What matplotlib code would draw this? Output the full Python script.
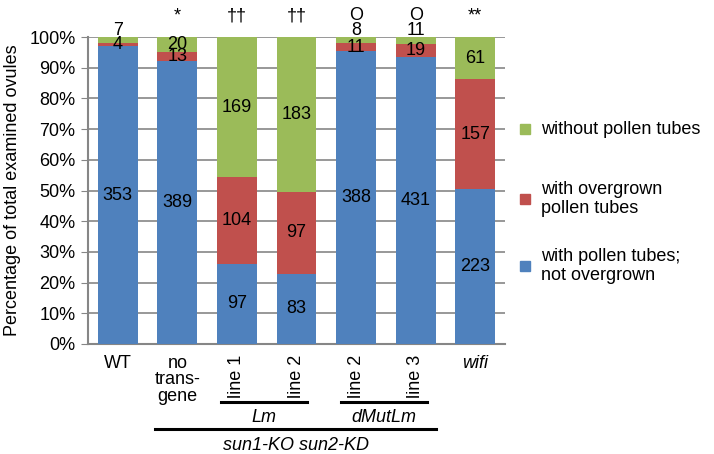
import matplotlib.pyplot as plt
from matplotlib.patches import Rectangle
from matplotlib.transforms import blended_transform_factory
import numpy as np

plt.rcParams['font.family'] = ['Liberation Sans', 'DejaVu Sans']

# data
categories = ["WT", "no\ntrans-\ngene", "line 1", "line 2", "line 2", "line 3", "wifi"]
not_overgrown = [353, 389, 97, 83, 388, 431, 223]
overgrown = [4, 13, 104, 97, 11, 19, 157]
without_tubes = [7, 20, 169, 183, 8, 11, 61]
significance = ["", "*", "††", "††", "O", "O", "**"]
legend_labels = ["without pollen tubes", "with overgrown\npollen tubes", "with pollen tubes;\nnot overgrown"]

blue = "#4F81BD"
red = "#C0504D"
green = "#9BBB59"

fig = plt.figure(figsize=(7.14, 4.54), dpi=100)
ax = fig.add_axes([88 / 714, 1 - 344 / 454, 417 / 714, 307 / 454])

x = np.arange(len(categories))
counts = np.array([not_overgrown, overgrown, without_tubes], dtype=float)
totals = counts.sum(axis=0)
pct = counts / totals * 100

bottom = np.zeros(len(categories))
for row, (vals, color) in enumerate(zip(pct, [blue, red, green])):
    ax.bar(x, vals, bottom=bottom, width=0.67, color=color, zorder=3)
    for i in range(len(categories)):
        mid = bottom[i] + vals[i] / 2
        if row == 2 and vals[i] < 3:
            ax.text(x[i], 99.3, str(int(counts[row, i])), ha="center", va="bottom", fontsize=13, zorder=4)
        else:
            ax.text(x[i], mid, str(int(counts[row, i])), ha="center", va="center", fontsize=13, zorder=4)
    bottom += vals

for i, s in enumerate(significance):
    ax.text(x[i], 107, s, ha="center", va="center", fontsize=13)

ax.set_xlim(-0.5, len(categories) - 0.5)
ax.set_ylim(0, 100)
ax.set_yticks(np.arange(0, 101, 10))
ax.set_yticklabels([f"{v}%" for v in range(0, 101, 10)], fontsize=13)
ax.yaxis.grid(True, color="#868686", linewidth=1.2, zorder=0)
ax.set_ylabel("Percentage of total examined ovules", fontsize=13, labelpad=6)

ax.set_xticks(x)
ax.set_xticklabels(categories, fontsize=13, linespacing=0.95)
for i, lab in enumerate(ax.get_xticklabels()):
    if categories[i].startswith("line"):
        lab.set_rotation(90)
    if categories[i] == "wifi":
        lab.set_style("italic")
ax.tick_params(axis="x", length=0, pad=8)
ax.tick_params(axis="y", length=5, color="#868686", pad=4)

for side in ["top", "right"]:
    ax.spines[side].set_visible(False)
for side in ["left", "bottom"]:
    ax.spines[side].set_color("#868686")
    ax.spines[side].set_linewidth(1.5)

# group brackets under the x labels
trans = blended_transform_factory(ax.transData, fig.transFigure)
groups = [(1.73, 3.17, 1 - 402 / 454, "Lm", 1 - 418 / 454),
          (3.75, 5.19, 1 - 402 / 454, "dMutLm", 1 - 418 / 454),
          (0.63, 5.34, 1 - 429 / 454, "sun1-KO sun2-KD", 1 - 446 / 454)]
for x0, x1, yl, name, yt in groups:
    ax.plot([x0, x1], [yl, yl], color="black", lw=2.2, transform=trans, clip_on=False)
    ax.text((x0 + x1) / 2, yt, name, ha="center", va="center", style="italic",
            fontsize=13, transform=trans)

# legend
legend_y = [129, 199, 266]
for color, label, yy in zip([green, red, blue], legend_labels, legend_y):
    yf = 1 - yy / 454
    fig.patches.append(Rectangle((520 / 714, yf - 5 / 454), 10 / 714, 10 / 454,
                                 transform=fig.transFigure, color=color))
    fig.text(541 / 714, yf, label, ha="left", va="center", fontsize=13, linespacing=1.1)

fig.savefig("out.png", dpi=100)
